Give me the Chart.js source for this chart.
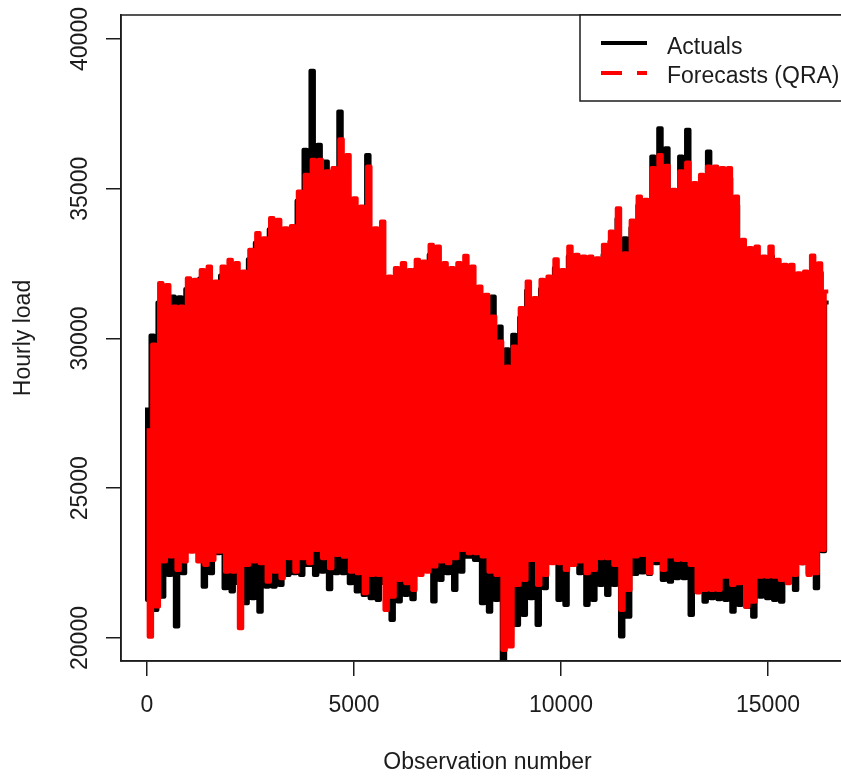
<!DOCTYPE html>
<html>
<head>
<meta charset="utf-8">
<style>html,body{margin:0;padding:0;background:#fff;overflow:hidden;width:841px;height:776px}canvas{display:block}</style>
<script src="https://cdn.jsdelivr.net/npm/chart.js@4"></script>
</head>
<body>
<canvas id="c" width="856" height="776" style="width:856px;height:776px"></canvas>
<script>
const seriesNames = ['Actuals', 'Forecasts (QRA)'];
const xTicks = [0, 5000, 10000, 15000];
const yTicks = [20000, 25000, 30000, 35000, 40000];

const actualHigh = [
27700,30100,31200,31300,31400,31380,31650,31700,32000,32050,
31650,32100,32300,32200,31950,32650,33200,33050,33650,33700,
33400,33350,34600,36300,38940,36470,35910,35500,37580,35800,
34400,34100,36130,33400,33600,31800,32050,32200,32000,32300,
32250,32800,32750,32200,32050,32200,32450,32100,31600,31200,
31400,30400,29645,30125,30700,31600,31050,31650,31750,32350,
32000,32750,32500,32400,32450,32350,32800,33250,34000,33350,
33700,34450,34300,36080,37020,36355,34700,36080,36970,34900,
35150,36245,35400,35350,35350,34450,33000,32700,32750,32450,
32750,32300,32150,32150,31900,31950,32450,32200,31200];
const actualLow = [
21270,20935,21380,22105,20380,22160,23050,23160,21715,22160,
22830,21660,21550,21825,21160,21325,20880,21715,21715,21770,
22105,22160,22105,22440,22105,22215,21625,22160,22160,21825,
21550,21435,21325,21270,21825,20600,21215,21435,21290,22495,
22495,21215,21940,22160,21605,22215,22715,22605,21159,20880,
21270,19211,20046,20435,20769,21326,20435,21660,22800,21270,
21103,22500,22160,21103,21270,21771,21437,21771,20046,20713,
22138,22183,22138,22494,21938,21882,21993,21993,20769,21548,
21214,21326,21292,21270,20880,21103,21047,20713,21381,21326,
21270,21214,22049,21604,22494,22160,21660,22900];
const forecastHigh = [
27000,29800,31850,31790,31070,31070,32015,31960,32290,32405,
31900,32405,32630,32520,32240,32960,33520,33350,34020,33965,
33685,33760,34910,35470,35970,35970,35580,35690,36655,36130,
34685,34410,35745,33685,33910,32070,32350,32520,32290,32630,
32570,33130,33075,32520,32350,32520,32760,32405,31740,31460,
30735,29900,29066,29735,31015,31900,31350,31960,32070,32650,
32290,33070,32795,32740,32740,32680,33130,33570,34350,32850,
33940,34740,34630,35690,36130,35765,34965,35580,35880,35190,
35465,35745,35745,35690,35690,34740,33295,33020,33070,32740,
33070,32630,32460,32460,32180,32240,32770,32515,31570];
const forecastLow = [
20045,21050,22550,22720,22270,22550,22880,22550,22440,22605,
22880,22215,22215,20325,22440,22550,22495,21880,22215,21995,
22660,22215,22660,22495,22940,22660,22330,22770,22715,22215,
22160,21490,22105,22105,20935,21380,21940,21825,21605,22105,
22215,22385,22550,22495,22660,22940,22830,22830,22717,22216,
22105,19600,19712,21771,21938,22606,21771,22105,22494,22494,
22272,22439,22550,22160,22272,22661,22661,22439,20936,21604,
22717,22772,22160,22606,22272,22717,22606,22606,22439,21515,
21604,21604,21604,22049,21771,21827,21047,21214,22049,22049,
22049,21938,21827,22105,22494,22105,22160,22940];

function zigzag(highs, lows, first, step) {
  const pts = [];
  highs.forEach((h, i) => {
    pts.push({ x: first + pts.length * step, y: h });
    if (i < lows.length) pts.push({ x: first + pts.length * step, y: lows[i] });
  });
  return pts;
}

const ink = '#1c1c1c';
const font = { family: '"Liberation Sans", Arial, sans-serif', size: 23 };

const frameAndLegend = {
  id: 'frameAndLegend',
  afterDatasetsDraw(chart) {
    const { ctx, chartArea: a } = chart;
    ctx.save();
    ctx.strokeStyle = ink;
    ctx.lineWidth = 1.5;
    ctx.strokeRect(a.left, a.top, a.right - a.left, a.bottom - a.top);
    ctx.fillStyle = '#fff';
    ctx.fillRect(580, 15, 280, 86);
    ctx.strokeRect(580, 15, 280, 86);
    const rows = [
      { text: seriesNames[0], color: '#000', dash: [], y: 43, base: 53.5 },
      { text: seriesNames[1], color: '#ff0000', dash: [21, 15], y: 73, base: 82.5 }
    ];
    rows.forEach(r => {
      ctx.beginPath();
      ctx.setLineDash(r.dash);
      ctx.strokeStyle = r.color;
      ctx.lineWidth = 4;
      ctx.moveTo(601, r.y);
      ctx.lineTo(647, r.y);
      ctx.stroke();
      ctx.setLineDash([]);
      ctx.fillStyle = ink;
      ctx.font = font.size + 'px ' + font.family;
      ctx.textAlign = 'left';
      ctx.textBaseline = 'alphabetic';
      ctx.fillText(r.text, 667, r.base);
    });
    ctx.restore();
  }
};

new Chart(document.getElementById('c'), {
  type: 'line',
  data: {
    datasets: [
      { label: seriesNames[0], data: zigzag(actualHigh, actualLow, 0, 84), borderColor: '#000000', order: 2 },
      { label: seriesNames[1], data: zigzag(forecastHigh, forecastLow, 40, 83.75), borderColor: '#ff0000', order: 1 }
    ]
  },
  plugins: [frameAndLegend],
  options: {
    responsive: false,
    animation: false,
    parsing: false,
    normalized: true,
    layout: { padding: { top: 15, right: 2, left: 0, bottom: 0 } },
    elements: {
      point: { radius: 0 },
      line: { borderWidth: 4, stepped: 'after', tension: 0, fill: false, borderJoinStyle: 'round', borderCapStyle: 'butt' }
    },
    plugins: { legend: { display: false }, tooltip: { enabled: false }, title: { display: false } },
    scales: {
      x: {
        type: 'linear',
        min: -628,
        max: 17077,
        afterBuildTicks: s => { s.ticks = xTicks.map(v => ({ value: v })); },
        afterFit: s => { s.height = 115; },
        grid: { drawOnChartArea: false, drawTicks: true, tickLength: 15, color: ink, lineWidth: 1.5 },
        border: { display: true, color: ink, width: 1.5 },
        ticks: { color: ink, font, padding: 16, autoSkip: false, maxRotation: 0, minRotation: 0, callback: v => String(v) },
        title: { display: true, text: 'Observation number', color: ink, font, padding: { top: 0, bottom: 0 } }
      },
      y: {
        type: 'linear',
        min: 19232,
        max: 40801,
        afterBuildTicks: s => { s.ticks = yTicks.map(v => ({ value: v })); },
        afterFit: s => { s.width = 121; },
        grid: { drawOnChartArea: false, drawTicks: true, tickLength: 15, color: ink, lineWidth: 1.5 },
        border: { display: true, color: ink, width: 1.5 },
        ticks: { color: ink, font, padding: -7, autoSkip: false, minRotation: 90, maxRotation: 90, crossAlign: 'center', callback: v => String(v) },
        title: { display: true, text: 'Hourly load', color: ink, font, padding: { top: 10, bottom: 0 } }
      }
    }
  }
});
</script>
</body>
</html>
